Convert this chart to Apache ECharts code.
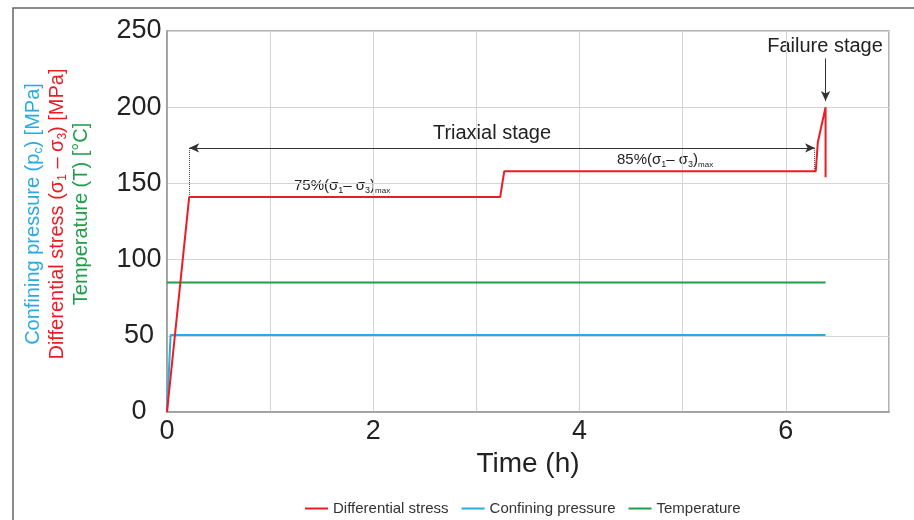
<!DOCTYPE html>
<html>
<head>
<meta charset="utf-8">
<script src="https://cdn.jsdelivr.net/npm/echarts@6/dist/echarts.min.js"></script>
<style>
  html, body { margin: 0; padding: 0; background: #fff; }
  #main { width: 914px; height: 520px; }
</style>
</head>
<body>
<div id="main"></div>
<script>
// 数据 (时间单位: h)
var stressTime = [0, 0.215, 3.23, 3.27, 6.29, 6.31, 6.385, 6.385];
var stressValue = [0, 141, 141, 158, 158, 177, 200, 154];
var pressureTime = [0, 0.035, 6.385];
var pressureValue = [0, 50.5, 50.5];
var tempTime = [0, 6.385];
var tempValue = [85, 85];
var xTickLabels = [0, 2, 4, 6];
var yTickLabels = [0, 50, 100, 150, 200, 250];

var RED = "#ed1c24";
var BLUE = "#29abe2";
var GREEN = "#1f9e4a";
var FONT = "Liberation Sans";

function pairs(xs, ys) {
  return xs.map(function (x, i) { return [x, ys[i]]; });
}

var myChart = echarts.init(document.getElementById("main"));
myChart.setOption({
  backgroundColor: "#fff",
  animation: false,
  textStyle: { fontFamily: FONT },
  grid: {
    left: 167,
    right: 25,
    top: 31,
    bottom: 108,
    show: true,
    borderColor: "#999",
    borderWidth: 1.5,
  },
  legend: {
    left: 300,
    top: 496,
    icon: "rect",
    itemWidth: 23,
    itemHeight: 2,
    itemGap: 13,
    textStyle: { fontSize: 15, color: "#333", fontFamily: FONT },
    data: ["Differential stress", "Confining pressure", "Temperature"],
  },
  xAxis: {
    type: "value",
    min: 0,
    max: 7,
    interval: 1,
    name: "Time (h)",
    nameLocation: "middle",
    nameGap: 29,
    nameTextStyle: { fontSize: 28, color: "#222", fontFamily: FONT },
    axisLine: { lineStyle: { color: "#999", width: 1.5 } },
    axisTick: { show: false },
    axisLabel: {
      fontSize: 27,
      color: "#222",
      margin: 6,
      formatter: function (v) {
        return xTickLabels.indexOf(v) >= 0 ? String(v) : "";
      },
    },
    splitLine: { lineStyle: { color: "#d4d4d4", width: 1 } },
  },
  yAxis: {
    type: "value",
    min: 0,
    max: 250,
    interval: 50,
    axisLine: { show: true, lineStyle: { color: "#999", width: 1.5 } },
    axisTick: { show: false },
    axisLabel: {
      fontSize: 27,
      color: "#222",
      //标签居中对齐
      align: "center",
      margin: 28,
      formatter: function (v) {
        return yTickLabels.indexOf(v) >= 0 ? String(v) : "";
      },
    },
    splitLine: { lineStyle: { color: "#d4d4d4", width: 1 } },
  },
  series: [
    {
      name: "Differential stress",
      type: "line",
      symbol: "none",
      color: RED,
      lineStyle: { width: 2, color: RED },
      data: pairs(stressTime, stressValue),
      z: 5,
      // 标注: 三轴阶段箭头、虚线、破坏阶段箭头
      markLine: {
        silent: true,
        symbol: ["arrow", "arrow"],
        symbolSize: [7, 10],
        label: { show: false },
        lineStyle: { color: "#333", width: 1, type: "solid" },
        data: [
          [{ coord: [0.215, 173.3] }, { coord: [6.283, 173.3] }],
          [
            { coord: [0.215, 173.3], symbol: "none", lineStyle: { type: "dotted", color: "#444" } },
            { coord: [0.215, 141], symbol: "none" },
          ],
          [
            { coord: [6.275, 173.3], symbol: "none", lineStyle: { type: "dotted", color: "#444" } },
            { coord: [6.275, 158], symbol: "none" },
          ],
          [
            { coord: [6.385, 232], symbol: "none" },
            { coord: [6.385, 204], symbol: "arrow" },
          ],
        ],
      },
    },
    {
      name: "Confining pressure",
      type: "line",
      symbol: "none",
      color: BLUE,
      lineStyle: { width: 2, color: BLUE },
      data: pairs(pressureTime, pressureValue),
    },
    {
      name: "Temperature",
      type: "line",
      symbol: "none",
      color: GREEN,
      lineStyle: { width: 2, color: GREEN },
      data: pairs(tempTime, tempValue),
    },
  ],
  graphic: [
    // 外框
    {
      type: "polyline",
      shape: { points: [[13, 520], [13, 8], [914, 8]] },
      style: { stroke: "#666", lineWidth: 1.5, fill: null },
    },
    // y轴多色标题
    {
      type: "text",
      x: 57,
      y: 214,
      rotation: Math.PI / 2,
      style: {
        text:
          "{b|Confining pressure (p}{bs|c}{b|) [MPa]}\n" +
          "{r|Differential stress (σ}{rs|1}{r| – σ}{rs|3}{r|) [MPa]}\n" +
          "{g|Temperature (T) [°C]}",
        align: "center",
        verticalAlign: "middle",
        fontFamily: FONT,
        rich: {
          b: { fontSize: 20, fill: BLUE, lineHeight: 24, fontFamily: FONT },
          bs: { fontSize: 12, fill: BLUE, lineHeight: 24, verticalAlign: "bottom", fontFamily: FONT },
          r: { fontSize: 20, fill: RED, lineHeight: 24, fontFamily: FONT },
          rs: { fontSize: 12, fill: RED, lineHeight: 24, verticalAlign: "bottom", fontFamily: FONT },
          g: { fontSize: 20, fill: GREEN, lineHeight: 24, fontFamily: FONT },
        },
      },
    },
    {
      type: "text",
      x: 492,
      y: 133,
      style: {
        text: "Triaxial stage",
        fontSize: 20,
        fill: "#222",
        fontFamily: FONT,
        align: "center",
        verticalAlign: "middle",
      },
    },
    {
      type: "text",
      x: 825,
      y: 46,
      style: {
        text: "Failure stage",
        fontSize: 20,
        fill: "#222",
        fontFamily: FONT,
        align: "center",
        verticalAlign: "middle",
      },
    },
    {
      type: "text",
      x: 294,
      y: 186,
      style: {
        text: "{n|75%(σ}{s|1}{n|– σ}{s|3}{n|)}{m|max}",
        align: "left",
        verticalAlign: "middle",
        rich: {
          n: { fontSize: 15, fill: "#222", lineHeight: 18, fontFamily: FONT },
          s: { fontSize: 9, fill: "#222", lineHeight: 18, verticalAlign: "bottom", fontFamily: FONT },
          m: { fontSize: 8, fill: "#222", lineHeight: 18, verticalAlign: "bottom", fontFamily: FONT },
        },
      },
    },
    {
      type: "text",
      x: 617,
      y: 160,
      style: {
        text: "{n|85%(σ}{s|1}{n|– σ}{s|3}{n|)}{m|max}",
        align: "left",
        verticalAlign: "middle",
        rich: {
          n: { fontSize: 15, fill: "#222", lineHeight: 18, fontFamily: FONT },
          s: { fontSize: 9, fill: "#222", lineHeight: 18, verticalAlign: "bottom", fontFamily: FONT },
          m: { fontSize: 8, fill: "#222", lineHeight: 18, verticalAlign: "bottom", fontFamily: FONT },
        },
      },
    },
  ],
});
</script>
</body>
</html>
